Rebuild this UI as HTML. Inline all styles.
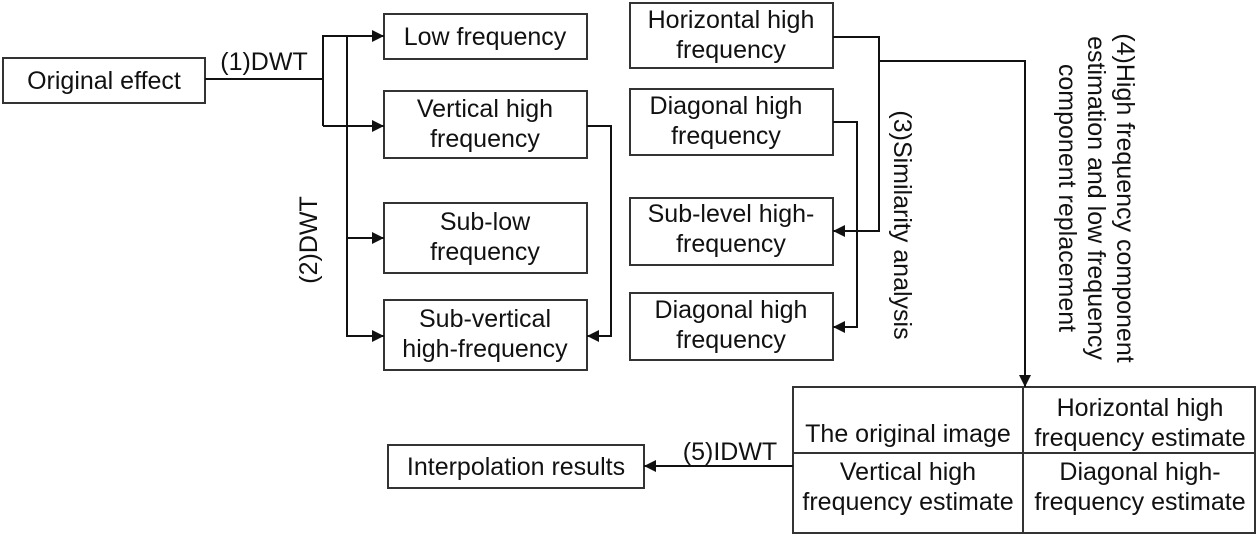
<!DOCTYPE html><html><head><style>body{margin:0;background:#fff}svg{display:block}text{font-family:"Liberation Sans",sans-serif;font-size:25px;fill:#111}</style></head><body>
<svg width="1257" height="537" viewBox="0 0 1257 537">
<defs><marker id="a" viewBox="0 0 10 10" refX="10" refY="5" markerWidth="12" markerHeight="12" markerUnits="userSpaceOnUse" orient="auto"><path d="M0,0L10,5L0,10z" fill="#111"/></marker></defs>
<g fill="none" stroke="#333" stroke-width="2">
<rect x="3" y="58" width="202" height="45"/>
<rect x="384" y="14" width="203" height="45"/>
<rect x="384" y="91" width="203" height="67"/>
<rect x="384" y="203" width="203" height="70"/>
<rect x="384" y="300" width="203" height="70"/>
<rect x="630" y="3" width="203" height="65"/>
<rect x="630" y="89" width="203" height="66"/>
<rect x="630" y="198" width="203" height="67"/>
<rect x="630" y="293" width="203" height="67"/>
<rect x="793" y="387" width="462" height="146"/>
<line x1="793" y1="453" x2="1255" y2="453"/><line x1="1023" y1="387" x2="1023" y2="533"/>
<rect x="388" y="445" width="256" height="43"/>
</g>
<g fill="none" stroke="#111" stroke-width="2">
<path d="M205 79H323"/><path d="M323 126V36H384" marker-end="url(#a)"/><path d="M323 126H384" marker-end="url(#a)"/>
<path d="M347 36V336H384" marker-end="url(#a)"/><path d="M347 238H384" marker-end="url(#a)"/>
<path d="M587 126H611V336H587" marker-end="url(#a)"/>
<path d="M833 37H879V231H833" marker-end="url(#a)"/>
<path d="M879 61H1025V387" marker-end="url(#a)"/>
<path d="M833 122H857V327H833" marker-end="url(#a)"/>
<path d="M793 466H644" marker-end="url(#a)"/>
</g>
<g text-anchor="middle">
<text x="104" y="89">Original effect</text>
<text x="264" y="70">(1)DWT</text>
<text x="485" y="45">Low frequency</text>
<text x="485" y="117">Vertical high</text><text x="485" y="147">frequency</text>
<text x="485" y="230">Sub-low</text><text x="485" y="260">frequency</text>
<text x="485" y="327">Sub-vertical</text><text x="485" y="357">high-frequency</text>
<text x="731" y="28">Horizontal high</text><text x="731" y="58">frequency</text>
<text x="726" y="114">Diagonal high</text><text x="726" y="144">frequency</text>
<text x="731" y="222">Sub-level high-</text><text x="731" y="252">frequency</text>
<text x="731" y="318">Diagonal high</text><text x="731" y="348">frequency</text>
<text x="908" y="442">The original image</text>
<text x="1140" y="416">Horizontal high</text><text x="1140" y="446">frequency estimate</text>
<text x="908" y="480">Vertical high</text><text x="908" y="510">frequency estimate</text>
<text x="1140" y="480">Diagonal high-</text><text x="1140" y="510">frequency estimate</text>
<text x="516" y="475">Interpolation results</text>
<text x="730" y="460">(5)IDWT</text>
<text transform="translate(317,240) rotate(-90)">(2)DWT</text>
<text transform="translate(894,225) rotate(90)">(3)Similarity analysis</text>
<text transform="translate(1117,198) rotate(90)">(4)High frequency component</text>
<text transform="translate(1088,198) rotate(90)">estimation and low frequency</text>
<text transform="translate(1059,198) rotate(90)">component replacement</text>
</g>
</svg></body></html>
